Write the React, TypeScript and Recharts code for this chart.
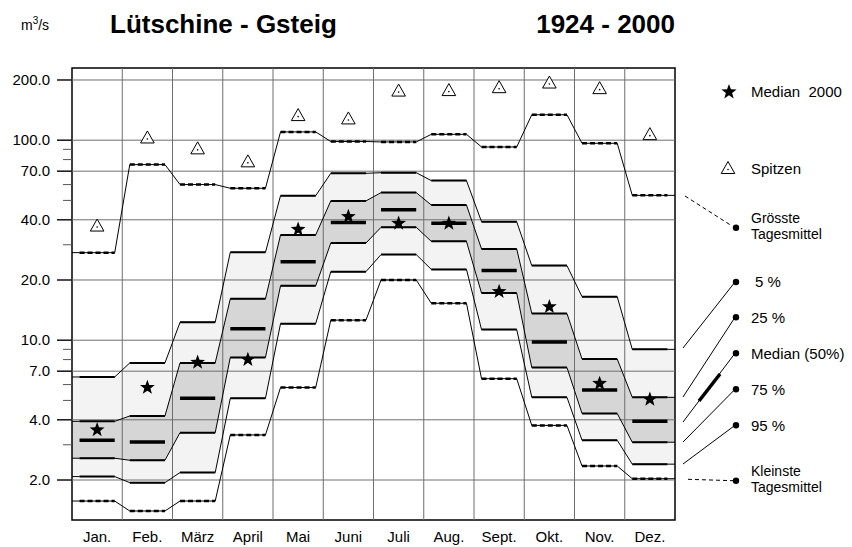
import React from 'react';
import {
  ComposedChart,
  Area,
  Line,
  Scatter,
  XAxis,
  YAxis,
  ReferenceLine,
  ReferenceArea,
} from 'recharts';

// ---------- data (m3/s) ----------
const months = ['Jan.', 'Feb.', 'März', 'April', 'Mai', 'Juni', 'Juli', 'Aug.', 'Sept.', 'Okt.', 'Nov.', 'Dez.'];
const grossteTagesmittel = [27.4, 75.5, 60, 57.5, 110, 98.5, 98, 107, 92.5, 134, 96.5, 53];
const q5 = [6.55, 7.7, 12.3, 27.5, 52.8, 68.3, 68.8, 62.8, 39.1, 23.6, 16.5, 9.0];
const q25 = [3.93, 4.18, 7.7, 16.1, 33.6, 49.7, 54.7, 47.4, 28.6, 13.6, 8.05, 5.18];
const q50 = [3.16, 3.1, 5.12, 11.4, 24.7, 38.8, 44.9, 38.4, 22.3, 9.8, 5.64, 3.93];
const q75 = [2.57, 2.51, 3.45, 8.2, 18.7, 30.6, 36.7, 31.2, 17.2, 7.3, 4.3, 3.09];
const q95 = [2.08, 1.94, 2.18, 5.12, 12.1, 22.0, 26.8, 22.6, 11.3, 5.18, 3.16, 2.4];
const kleinsteTagesmittel = [1.57, 1.4, 1.57, 3.36, 5.8, 12.6, 20.0, 15.3, 6.42, 3.75, 2.35, 2.03];
const median2000 = [3.56, 5.8, 7.75, 8.0, 35.8, 41.5, 38.4, 38.4, 17.5, 14.7, 6.08, 5.06];
const spitzen = [37, 102, 90, 77.5, 132, 127, 175, 176, 182, 192, 180, 106];

const majorTicks = [2, 4, 7, 10, 20, 40, 70, 100, 200];
const minorTicks = [3, 5, 6, 8, 9, 30, 50, 60, 80, 90];
const yDomain = [1.262, 229.6];

const FONT = '"Liberation Sans", Arial, Helvetica, sans-serif';
const FLAT_GAP = 0.15;

function thinValues(i: number) {
  return {
    gtm: grossteTagesmittel[i],
    p5: q5[i],
    p25: q25[i],
    p75: q75[i],
    p95: q95[i],
    ktm: kleinsteTagesmittel[i],
    outer: [q95[i], q5[i]],
    inner: [q75[i], q25[i]],
  };
}

function flatValues(i: number) {
  return {
    fgtm: grossteTagesmittel[i],
    f5: q5[i],
    f25: q25[i],
    fmed: q50[i],
    f75: q75[i],
    f95: q95[i],
    fktm: kleinsteTagesmittel[i],
  };
}

function buildRows() {
  const rows: any[] = [];
  rows.push({ x: 0, ...thinValues(0) });
  months.forEach((_, i) => {
    if (i > 0) rows.push({ x: i });
    rows.push({ x: i + FLAT_GAP, ...thinValues(i), ...flatValues(i) });
    rows.push({ x: i + 1 - FLAT_GAP, ...thinValues(i), ...flatValues(i) });
  });
  rows.push({ x: months.length, ...thinValues(months.length - 1) });
  return rows;
}

const rows = buildRows();
const starData = median2000.map((v, i) => ({ x: i + 0.5, v }));
const peakData = spitzen.map((v, i) => ({ x: i + 0.5, v }));
const monthCenters = months.map((_, i) => i + 0.5);
const monthBounds = months.slice(1).map((_, i) => i + 1);

function starPoints(cx: number, cy: number, R: number, r: number) {
  const pts: string[] = [];
  for (let k = 0; k < 10; k++) {
    const a = (-90 + k * 36) * (Math.PI / 180);
    const rr = k % 2 === 0 ? R : r;
    pts.push(`${cx + rr * Math.cos(a)},${cy + rr * Math.sin(a)}`);
  }
  return pts.join(' ');
}

const StarShape = (props: any) => {
  const { cx, cy } = props;
  if (cx == null || cy == null) return null;
  return <polygon points={starPoints(cx, cy, 7.8, 3.2)} fill="#000" />;
};

const TriangleShape = (props: any) => {
  const { cx, cy } = props;
  if (cx == null || cy == null) return null;
  return (
    <g>
      <polygon
        points={`${cx},${cy - 7.5} ${cx - 6.8},${cy + 4.5} ${cx + 6.8},${cy + 4.5}`}
        fill="#fff"
        stroke="#000"
        strokeWidth={1}
      />
      <circle cx={cx} cy={cy + 0.5} r={0.8} fill="#000" />
    </g>
  );
};

const YTick = (props: any) => {
  const { x, y, payload } = props;
  const v = payload.value;
  const major = majorTicks.includes(v);
  return (
    <g>
      <line
        x1={x - (major ? 15 : 9)}
        x2={x}
        y1={y}
        y2={y}
        stroke={major ? '#222' : '#555'}
        strokeWidth={major ? 1.6 : 1}
      />
      {major && (
        <text x={x - 22} y={y} dy="0.35em" textAnchor="end" fontSize={15} fill="#000" fontFamily={FONT}>
          {v.toFixed(1)}
        </text>
      )}
    </g>
  );
};

const XTick = (props: any) => {
  const { x, y, payload } = props;
  const label = months[Math.floor(payload.value)];
  return (
    <text x={x} y={y + 17} dy="0.35em" textAnchor="middle" fontSize={15} fill="#000" fontFamily={FONT}>
      {label}
    </text>
  );
};

const Overlay = () => {
  const textProps = { fontSize: 15, fill: '#000', fontFamily: FONT };
  const smallText = { fontSize: 14, fill: '#000', fontFamily: FONT };
  const dot = (y: number) => <circle cx={736} cy={y} r={3.2} fill="#000" />;
  return (
    <svg
      width={852}
      height={547}
      style={{ position: 'absolute', left: 0, top: 0, pointerEvents: 'none' }}
    >
      <text x={21} y={30} fontSize={14} fontFamily={FONT} fill="#000">
        m<tspan dy={-6} fontSize={10}>3</tspan>
        <tspan dy={6}>/s</tspan>
      </text>
      <text x={110} y={33} fontSize={26} fontWeight="bold" fontFamily={FONT} fill="#000">
        Lütschine - Gsteig
      </text>
      <text x={675} y={33} fontSize={26} fontWeight="bold" fontFamily={FONT} fill="#000" textAnchor="end">
        1924 - 2000
      </text>

      {/* legend */}
      <polygon points={starPoints(729, 92, 8, 3.3)} fill="#000" />
      <text x={751} y={92} dy="0.35em" {...textProps}>{'Median\u00a0\u00a02000'}</text>

      <TriangleShape cx={728} cy={169} />
      <text x={751} y={169} dy="0.35em" {...textProps}>Spitzen</text>

      <line x1={685} y1={196} x2={732} y2={226} stroke="#000" strokeWidth={1} strokeDasharray="4 3" />
      {dot(227.7)}
      <text x={751} y={218} dy="0.35em" {...smallText}>Grösste</text>
      <text x={751} y={234} dy="0.35em" {...smallText}>Tagesmittel</text>

      <line x1={683} y1={348} x2={735} y2={282} stroke="#000" strokeWidth={1} />
      {dot(282)}
      <text x={755} y={282} dy="0.35em" {...textProps}>5 %</text>

      <line x1={683} y1={397} x2={735} y2={317.3} stroke="#000" strokeWidth={1} />
      {dot(317.3)}
      <text x={751} y={317.3} dy="0.35em" {...textProps}>25 %</text>

      <line x1={683} y1={422} x2={735} y2={353.3} stroke="#000" strokeWidth={1} />
      <line x1={699} y1={401} x2={720} y2={374} stroke="#000" strokeWidth={3.5} />
      {dot(353.3)}
      <text x={751} y={353.3} dy="0.35em" {...textProps}>Median (50%)</text>

      <line x1={683} y1={442} x2={735} y2={389.3} stroke="#000" strokeWidth={1} />
      {dot(389.3)}
      <text x={751} y={389.3} dy="0.35em" {...textProps}>75 %</text>

      <line x1={683} y1={464} x2={735} y2={425.3} stroke="#000" strokeWidth={1} />
      {dot(425.3)}
      <text x={751} y={425.3} dy="0.35em" {...textProps}>95 %</text>

      <line x1={688} y1={479.3} x2={733} y2={480.7} stroke="#000" strokeWidth={1} strokeDasharray="4 3" />
      {dot(480.7)}
      <text x={751} y={471} dy="0.35em" {...smallText}>Kleinste</text>
      <text x={751} y={487} dy="0.35em" {...smallText}>Tagesmittel</text>
    </svg>
  );
};

export default function App() {
  const thinLine = (key: string) => (
    <Line
      key={key}
      dataKey={key}
      type="linear"
      stroke="#000"
      strokeWidth={1}
      dot={false}
      activeDot={false}
      connectNulls
      isAnimationActive={false}
    />
  );
  const flatLine = (key: string, width: number, dash?: string) => (
    <Line
      key={key}
      dataKey={key}
      type="linear"
      stroke="#000"
      strokeWidth={width}
      strokeDasharray={dash}
      dot={false}
      activeDot={false}
      connectNulls={false}
      isAnimationActive={false}
    />
  );

  return (
    <div style={{ position: 'absolute', left: 0, top: 0, width: 852, height: 547, background: '#fff' }}>
      <ComposedChart
        width={852}
        height={547}
        data={rows}
        margin={{ top: 68, right: 177, bottom: 0, left: 0 }}
      >
        <XAxis
          dataKey="x"
          type="number"
          domain={[0, 12]}
          allowDataOverflow
          ticks={monthCenters}
          interval={0}
          tick={(p: any) => <XTick {...p} />}
          tickLine={false}
          axisLine={false}
          tickSize={0}
          tickMargin={0}
          height={27}
        />
        <YAxis
          type="number"
          scale="log"
          domain={yDomain}
          allowDataOverflow
          ticks={[...majorTicks, ...minorTicks].sort((a, b) => a - b)}
          interval={0}
          tick={(p: any) => <YTick {...p} />}
          tickLine={false}
          axisLine={false}
          tickSize={0}
          tickMargin={0}
          width={72}
        />
        <Area
          dataKey="outer"
          type="linear"
          stroke="none"
          fill="#f3f3f3"
          fillOpacity={1}
          connectNulls
          dot={false}
          activeDot={false}
          isAnimationActive={false}
        />
        <Area
          dataKey="inner"
          type="linear"
          stroke="none"
          fill="#d6d6d6"
          fillOpacity={1}
          connectNulls
          dot={false}
          activeDot={false}
          isAnimationActive={false}
        />
        {majorTicks.map((v) => (
          <ReferenceLine key={'h' + v} y={v} stroke="#6e6e6e" strokeWidth={1} />
        ))}
        {monthBounds.map((v) => (
          <ReferenceLine key={'v' + v} x={v} stroke="#6e6e6e" strokeWidth={1} />
        ))}
        {thinLine('gtm')}
        {thinLine('p5')}
        {thinLine('p25')}
        {thinLine('p75')}
        {thinLine('p95')}
        {thinLine('ktm')}
        {flatLine('fgtm', 2.5, '5 3')}
        {flatLine('f5', 2)}
        {flatLine('f25', 2)}
        {flatLine('f75', 2)}
        {flatLine('f95', 2)}
        {flatLine('fktm', 2.5, '5 3')}
        {flatLine('fmed', 3.5)}
        <Scatter data={peakData} dataKey="v" shape={(p: any) => <TriangleShape {...p} />} isAnimationActive={false} />
        <Scatter data={starData} dataKey="v" shape={(p: any) => <StarShape {...p} />} isAnimationActive={false} />
        <ReferenceArea x1={0} x2={12} fill="none" fillOpacity={0} stroke="#000" strokeWidth={1.5} ifOverflow="visible" />
      </ComposedChart>
      <Overlay />
    </div>
  );
}
